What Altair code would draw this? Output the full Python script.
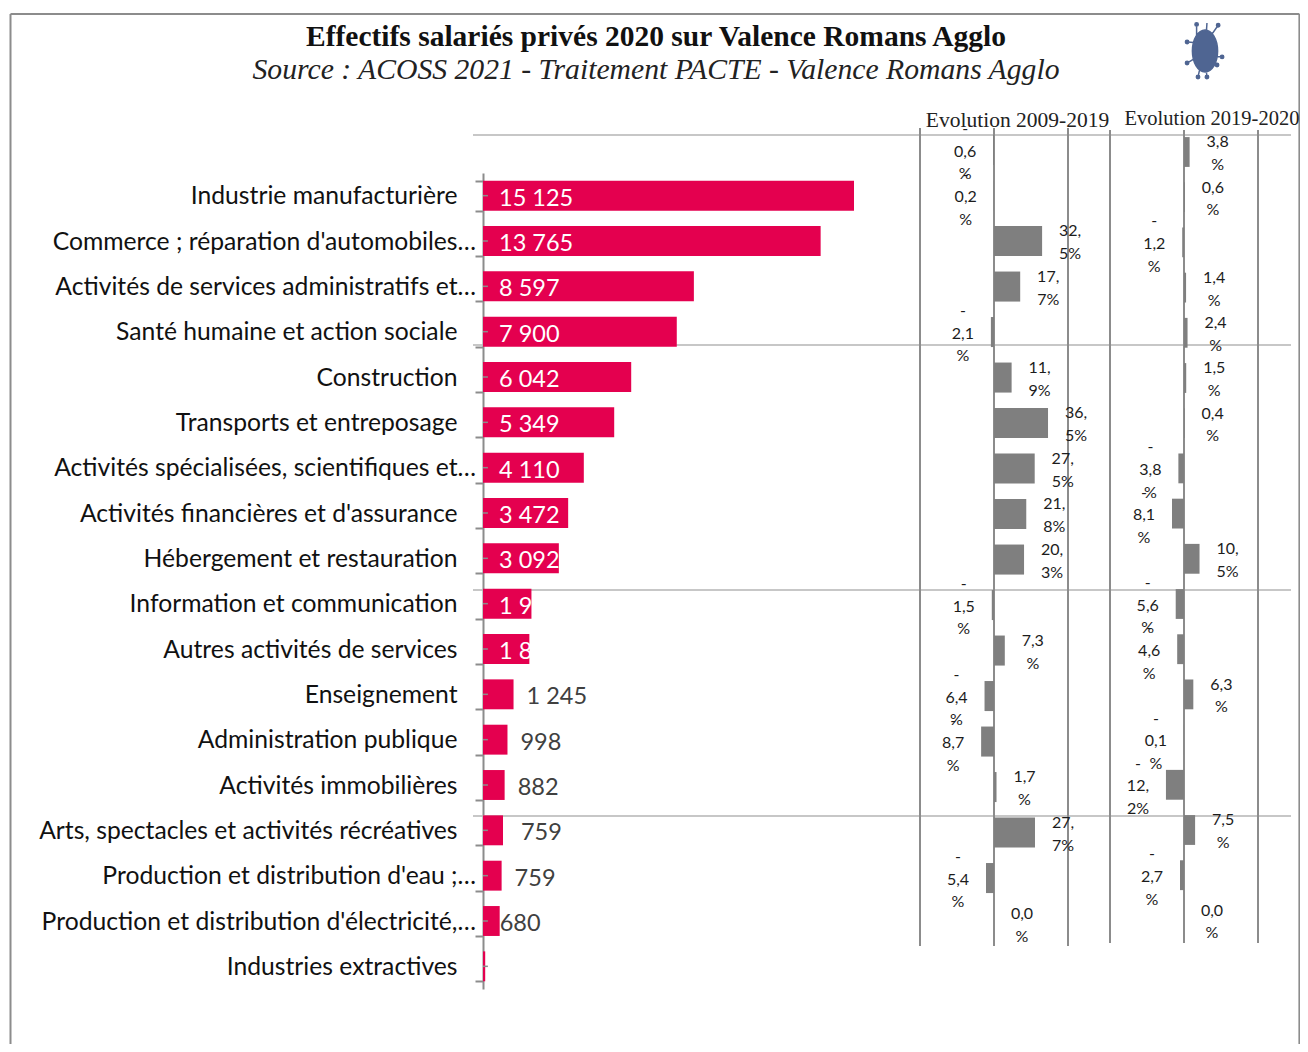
import altair as alt
import pandas as pd

categories = ["Industrie manufacturière", "Commerce ; réparation d'automobiles…",
              "Activités de services administratifs et…", "Santé humaine et action sociale",
              "Construction", "Transports et entreposage",
              "Activités spécialisées, scientifiques et…", "Activités financières et d'assurance",
              "Hébergement et restauration", "Information et communication",
              "Autres activités de services", "Enseignement", "Administration publique",
              "Activités immobilières", "Arts, spectacles et activités récréatives",
              "Production et distribution d'eau ;…", "Production et distribution d'électricité,…",
              "Industries extractives"]
effectifs = [15125, 13765, 8597, 7900, 6042, 5349, 4110, 3472, 3092, 1975, 1890, 1245, 998, 882, 815, 759, 680, 90]
effectifs_txt = ["15 125", "13 765", "8 597", "7 900", "6 042", "5 349", "4 110", "3 472", "3 092",
                 "1 975", "1 890", "1 245", "998", "882", "759", "759", "680", ""]
evol_0919 = [-0.6, -0.2, 32.5, 17.7, -2.1, 11.9, 36.5, 27.5, 21.8, 20.3, -1.5, 7.3, -6.4, -8.7, 1.7, 27.7, -5.4, 0.0]
evol_1920 = [3.8, 0.6, -1.2, 1.4, 2.4, 1.5, 0.4, -3.8, -8.1, 10.5, -5.6, -4.6, 6.3, -0.1, -12.2, 7.5, -2.7, 0.0]
title = "Effectifs salariés privés 2020 sur Valence Romans Agglo"
subtitle = "Source : ACOSS 2021 - Traitement PACTE - Valence Romans Agglo"
head_a = "Evolution 2009-2019"
head_b = "Evolution 2019-2020"

RED, BAR_GREY, LINE, HLINE = "#e4004f", "#7f7f7f", "#8c8c8c", "#b4b4b4"
OX = 8  # page margin
LH = 22.7
RIGHT = 1299.4  # the drawing area ends at 1300 on the page


def wrap(v):
    s = f"{abs(v):.1f}".replace(".", ",")
    body = s.replace(",", ",\n") + "%" if abs(v) >= 10 else s + "\n%"
    return ("-\n" + body) if v < 0 else body


one = alt.Data(values=[{"a": 0}])
left_df = pd.DataFrame({"cat": categories, "v": effectifs, "t": effectifs_txt})
left_scale = alt.Scale(domain=[0, 15125], range=[483 - OX, 854 - OX], nice=False, zero=False)
band = alt.Scale(domain=categories, range=[173 - OX, 989 - OX], paddingInner=0.34, paddingOuter=0.17)
xl = alt.X("v:Q", axis=None, scale=left_scale)
yl_plain = alt.Y("cat:N", axis=None, sort=None, scale=band)
yl_axis = alt.Y("cat:N", sort=None, title=None, scale=band,
                axis=alt.Axis(offset=-(483 - OX), tickBand="extent", tickSize=8, tickWidth=2, tickColor=LINE,
                              domainColor=LINE, domainWidth=2, labels=False, grid=False))

FONT_VAL = dict(font="Lato", fontSize=23.5)
layers = []
# frame
for x, x2, y, y2 in [(10.5, 10.5, 14, 1052), (10.5, RIGHT, 14, 14), (RIGHT, RIGHT, 14, 1052)]:
    layers.append(alt.Chart(one).mark_rule(color=LINE, strokeWidth=2).encode(
        x=alt.value(x - OX), x2=alt.value(x2 - OX), y=alt.value(y - OX), y2=alt.value(y2 - OX)))
# horizontal rules
for y in [135, 345, 590, 816]:
    layers.append(alt.Chart(one).mark_rule(color=HLINE, strokeWidth=1.5).encode(
        x=alt.value(473 - OX), x2=alt.value(1291 - OX), y=alt.value(y - OX)))

# left panel
layers.append(alt.Chart(left_df).mark_bar(color=RED).encode(x=xl, y=yl_axis))
# category labels: truncated ones run closer to the axis
zero_df = left_df.assign(z=0)
xz = alt.X("z:Q", axis=None, scale=left_scale)
trunc = zero_df[zero_df.cat.str.endswith("…")]
full = zero_df[~zero_df.cat.str.endswith("…")]
for sel, dx in [(full, -25.5), (trunc, -7)]:
    layers.append(alt.Chart(sel).mark_text(align="right", baseline="middle", dx=dx, yOffset=1.5, font="Lato", fontSize=24.7,
                                           color="#111111").encode(x=xz, y=yl_plain, text="cat:N"))
layers.append(alt.Chart(zero_df.iloc[:11]).mark_text(align="left", baseline="middle", color="white", dx=16, yOffset=3, **FONT_VAL).encode(
    x=xz, y=yl_plain, text="t:N"))
for rows, dx in [([11, 12, 13, 15], 13), ([14], 18), ([16], 0)]:
    layers.append(alt.Chart(left_df.iloc[rows]).mark_text(align="left", baseline="middle", dx=dx, yOffset=3, color="#404040", **FONT_VAL).encode(
        x=xl, y=yl_plain, text="t:N"))
ticks_df = pd.DataFrame({"cat": categories, "v": [0] * 18, "v2": [200] * 18})
layers.append(alt.Chart(ticks_df).mark_rule(color=LINE, strokeWidth=1.5).encode(
    x=xl, x2="v2:Q", y=yl_plain))


def panel(values, x0, y0, y1, rule_top, rule_bottom):
    df = pd.DataFrame({"cat": categories, "v": values, "t": [wrap(v) for v in values]})
    x = alt.X("v:Q", axis=None, scale=alt.Scale(domain=[-50, 50], range=[x0 - 74 - OX, x0 + 74 - OX], nice=False, zero=False))
    y = alt.Y("cat:N", axis=None, sort=None, scale=alt.Scale(domain=categories, range=[y0 - OX, y1 - OX], paddingInner=0.34, paddingOuter=0.17))
    out = [alt.Chart(pd.DataFrame({"v": [-50, 0, 50]})).mark_rule(color=LINE, strokeWidth=2).encode(
        x=x, y=alt.value(rule_top - OX), y2=alt.value(rule_bottom - OX))]
    out.append(alt.Chart(df).mark_bar(color=BAR_GREY).encode(x=x, y=y))
    # the first line of a wrapped label sits on the row centre: lift each block by half its height
    for sel, dx, lift in [(df[df.v >= 0], 28, LH / 2), (df[df.v < 0], -28, LH)]:
        out.append(alt.Chart(sel).mark_text(align="center", baseline="middle", dx=dx, dy=-lift + 1.7, lineBreak="\n", lineHeight=LH,
                                            font="Lato", fontSize=16, color="#1c1c1c").encode(x=x, y=y, text="t:N"))
    return out


layers += panel(evol_0919, 994, 127.3, 946.3, 128, 946)
layers += panel(evol_1920, 1184, 129.4, 943, 130, 943)

# titles
for txt, x, y, kw in [
    (title, 656, 37, dict(fontSize=29.5, fontWeight="bold", color="#111111")),
    (subtitle, 656, 70, dict(fontSize=29.7, fontStyle="italic", color="#222222")),
    (head_a, 1017.5, 120.5, dict(fontSize=21.5, color="#222222")),
    (head_b, 1212, 118.5, dict(fontSize=20.5, color="#222222")),
]:
    layers.append(alt.Chart(one).mark_text(text=txt, font="Liberation Serif", align="center", baseline="middle", **kw).encode(
        x=alt.value(x - OX), y=alt.value(y - OX)))


def dot(x, y, r=0.06):
    return f"M{x - r},{y} A{r},{r} 0 1 1 {x + r},{y} A{r},{r} 0 1 1 {x - r},{y} Z "


# virus icon (custom symbol, unit coordinates)
virus = ("M-0.45,0 A0.45,0.75 0 1 1 0.45,0 A0.45,0.75 0 1 1 -0.45,0 Z "
         "M-0.3,-0.55 L-0.3,-0.95 M0.05,-0.7 L0.07,-1 M0.25,-0.6 L0.47,-0.92 "
         "M-0.4,-0.3 L-0.64,-0.32 M-0.42,0.3 L-0.64,0.43 M0.42,0.2 L0.61,0.21 M0.38,0.42 L0.43,0.5 "
         "M-0.2,0.7 L-0.25,0.93 M0.05,0.75 L0.07,0.93 "
         + dot(-0.3, -0.95) + dot(0.47, -0.92) + dot(-0.64, -0.32) + dot(-0.64, 0.43) + dot(0.61, 0.21)
         + dot(0.43, 0.5) + dot(-0.25, 0.93) + dot(0.07, 0.93))
layers.append(alt.Chart(one).mark_point(shape=virus, size=3136, filled=True, color="#4f6592", stroke="#4f6592", strokeWidth=1.5, opacity=1).encode(
    x=alt.value(1205 - OX), y=alt.value(51 - OX)))

chart = alt.layer(*layers).resolve_scale(x="independent", y="independent").properties(
    width=1292, height=1036, padding=0, autosize=alt.AutoSizeParams(type="none"),
).configure_view(stroke=None)

chart.save("out.html", embed_options={"renderer": "svg", "actions": False})
